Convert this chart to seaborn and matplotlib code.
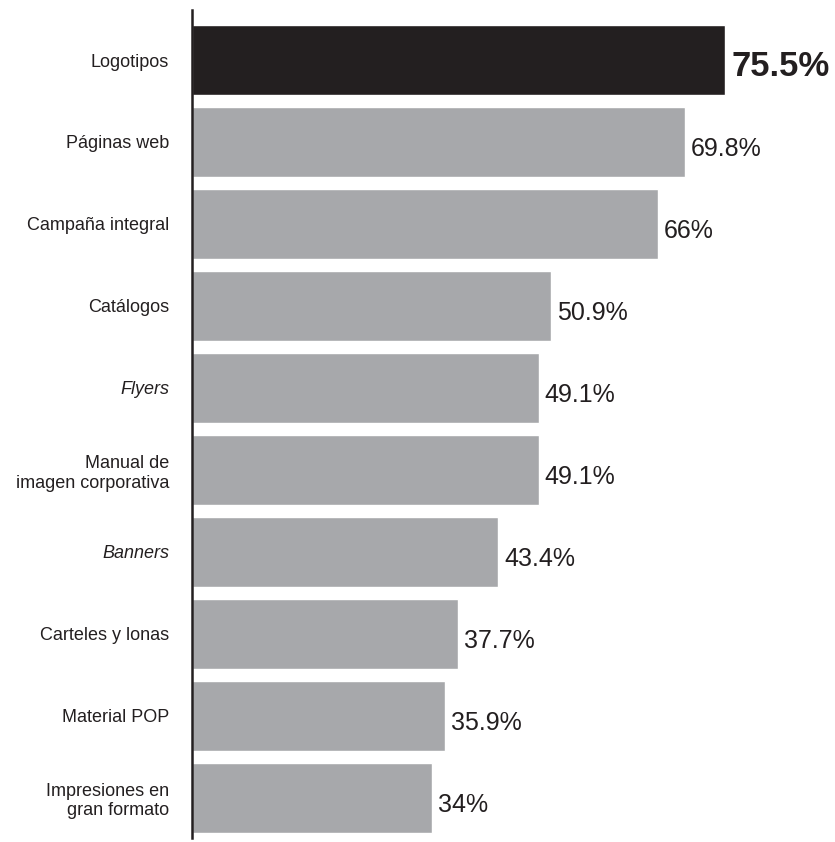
import matplotlib
matplotlib.use("Agg")
import matplotlib.pyplot as plt
import seaborn as sns
import pandas as pd

categories = ["Logotipos", "Páginas web", "Campaña integral", "Catálogos", "Flyers",
              "Manual de\nimagen corporativa", "Banners", "Carteles y lonas",
              "Material POP", "Impresiones en\ngran formato"]
values = [75.5, 69.8, 66.0, 50.9, 49.1, 49.1, 43.4, 37.7, 35.9, 34.0]
value_labels = ["75.5%", "69.8%", "66%", "50.9%", "49.1%", "49.1%", "43.4%",
                "37.7%", "35.9%", "34%"]
italic_categories = ["Flyers", "Banners"]

DARK = "#231f20"
GRAY = "#a7a8ab"
colors = [DARK] + [GRAY] * (len(categories) - 1)

sns.set_theme(style="white")
plt.rcParams["font.family"] = ["Liberation Sans", "DejaVu Sans"]

df = pd.DataFrame({"cat": categories, "val": values})

W, H = 835, 842
fig = plt.figure(figsize=(W / 100, H / 100), dpi=100)
ax = fig.add_axes([192 / W, (H - 838) / H, (W - 192) / W, 828 / H])

sns.barplot(data=df, y="cat", x="val", hue="cat", palette=colors, orient="h",
            width=0.854, legend=False, ax=ax, saturation=1)

ax.set_xlim(0, 643 / 7.06)
ax.set_ylim(9.49, -0.61)
ax.set_xlabel("")
ax.set_ylabel("")
ax.set_xticks([])

for s in ["top", "right", "bottom"]:
    ax.spines[s].set_visible(False)
ax.spines["left"].set_color(DARK)
ax.spines["left"].set_linewidth(1.8)

ax.tick_params(axis="y", length=0, pad=16.5)
for lab in ax.get_yticklabels():
    lab.set_fontsize(13)
    lab.set_color(DARK)
    lab.set_linespacing(1.2)
    lab.set_horizontalalignment("right")
    if lab.get_text() in italic_categories:
        lab.set_fontstyle("italic")

for i, (v, t) in enumerate(zip(values, value_labels)):
    if i == 0:
        ax.annotate(t, xy=(v, i), xytext=(5, -5), textcoords="offset points",
                    va="center", ha="left", fontsize=25, fontweight="bold", color=DARK)
    else:
        ax.annotate(t, xy=(v, i), xytext=(4, -5), textcoords="offset points",
                    va="center", ha="left", fontsize=18, color=DARK)

fig.savefig("out.png", dpi=100)
